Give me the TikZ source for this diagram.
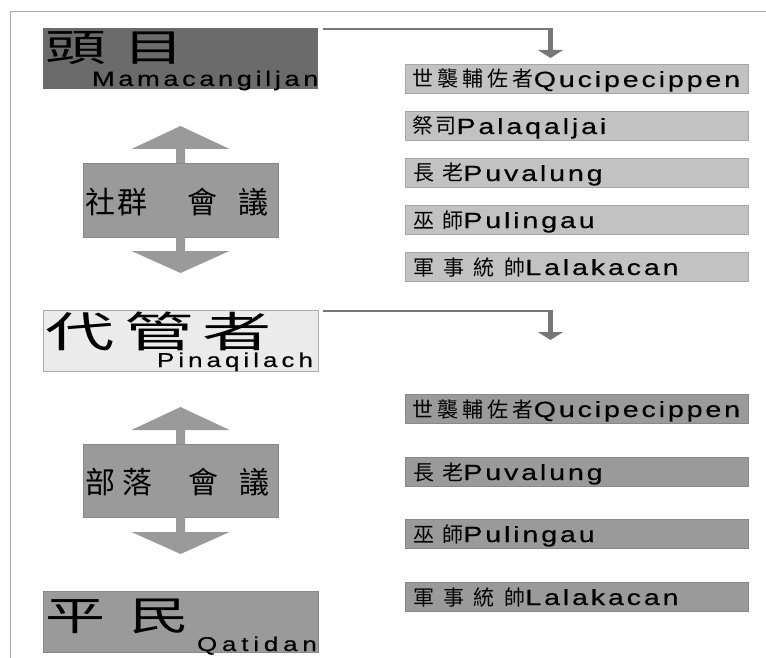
\documentclass[tikz,border=0pt]{standalone}
\usepackage{fontspec}
\usetikzlibrary{arrows.meta,calc}
\newfontfamily\cjk{Noto Sans CJK TC}
\newfontfamily\cjkwa[FakeStretch=1.6]{Noto Sans CJK TC}
\newfontfamily\cjkwb[FakeStretch=1.65]{Noto Sans CJK TC}
\newfontfamily\cjkwc[FakeStretch=1.5]{Noto Sans CJK TC}
\newfontfamily\lat[FakeStretch=1.3,LetterSpace=13,FakeBold=0.4]{Liberation Sans}
\definecolor{dk}{HTML}{6B6B6B}
\definecolor{lt}{HTML}{C2C2C2}
\definecolor{ltb}{HTML}{A6A6A6}
\definecolor{md}{HTML}{9A9A9A}
\definecolor{mdb}{HTML}{888888}
\definecolor{pale}{HTML}{EBEBEB}
\definecolor{framec}{HTML}{ABABAB}
\definecolor{conn}{HTML}{777777}
\tikzset{
  bx/.style={inner sep=0pt, outer sep=0pt, anchor=north west},
  headbox/.style={bx, minimum width=275pt, minimum height=61pt},
  rboxtop/.style={bx, fill=lt, draw=ltb, line width=0.8pt, minimum width=343pt, minimum height=29pt},
  rboxbot/.style={bx, fill=md, draw=mdb, line width=0.8pt, minimum width=343pt, minimum height=29pt},
  meetbox/.style={bx, fill=md, draw=mdb, line width=0.5pt, minimum width=195pt},
  txt/.style={inner sep=0pt, outer sep=0pt, anchor=base west, text=black},
  rt/.style={txt, font=\fontsize{21}{24}\selectfont},
  connline/.style={draw=conn, line width=1.2pt},
  thickarrow/.style={draw=conn, line width=5.5pt, -{Triangle[width=25pt,length=8pt]}},
  dblarrow/.style={fill=md}
}
\begin{document}
\begin{tikzpicture}[x=1pt,y=-1pt]
\useasboundingbox (0,0) rectangle (766,658);
\fill[white] (0,0) rectangle (766,658);
\draw[framec, line width=1pt] (10,658) -- (10,12) -- (766,12);

% left header boxes
\node[headbox, fill=dk] (h1) at (43,28) {};
\node[headbox, fill=pale, draw=framec, line width=0.8pt] (h2) at (43,310) {};
\node[headbox, fill=md, draw=mdb, line width=0.5pt] (h3) at (43,591) {};

\node[txt, font=\fontsize{38}{40}\selectfont\cjkwa] (h1a) at (45,62) {頭\kern18pt 目};
\node[txt, font=\fontsize{21}{24}\selectfont\lat\addfontfeature{LetterSpace=17}] (h1b) at (92,86) {Mamacangiljan};

\node[txt, font=\fontsize{42}{44}\selectfont\cjkwb] (h2a) at (45,347) {代\kern10pt 管\kern9pt 者};
\node[txt, font=\fontsize{20}{22}\selectfont\lat\addfontfeature{LetterSpace=20}] (h2b) at (157,367) {Pinaqilach};

\node[txt, font=\fontsize{40}{42}\selectfont\cjkwc] (h3a) at (45,630) {平\kern25pt 民};
\node[txt, font=\fontsize{20}{22}\selectfont\lat\addfontfeature{LetterSpace=24}] (h3b) at (197,651) {Qatidan};

% meeting boxes
\node[meetbox, minimum height=74pt] (m1) at (83,163) {};
\node[meetbox, minimum height=73pt] (m2) at (83,444) {};
\node[txt, font=\fontsize{30}{32}\selectfont\cjk] (m1t) at (85.5,213) {社\kern1.5pt 群\kern41pt 會\kern21pt 議};
\node[txt, font=\fontsize{30}{32}\selectfont\cjk] (m2t) at (85,493) {部\kern7.5pt 落\kern36pt 會\kern21pt 議};

% double arrows
\fill[dblarrow] (180.5,126) -- (229.5,149) -- (185,149) -- (185,163) -- (176,163) -- (176,149) -- (131.5,149) -- cycle;
\fill[dblarrow] (176,237) -- (185,237) -- (185,251) -- (229.5,251) -- (180.5,273) -- (131.5,251) -- (176,251) -- cycle;
\fill[dblarrow] (180.5,407) -- (229.5,430) -- (185,430) -- (185,444) -- (176,444) -- (176,430) -- (131.5,430) -- cycle;
\fill[dblarrow] (176,517) -- (185,517) -- (185,532) -- (229.5,532) -- (180.5,554) -- (131.5,532) -- (176,532) -- cycle;

% right boxes, top group
\node[rboxtop] (a1) at (405,64) {};
\node[rboxtop] (a2) at (405,111) {};
\node[rboxtop] (a3) at (405,158) {};
\node[rboxtop] (a4) at (405,205) {};
\node[rboxtop] (a5) at (405,252) {};
\node[rt] (a1t) at (412,87) {{\cjk\addfontfeature{LetterSpace=20}世襲輔佐者}{\fontsize{22}{24}\selectfont\lat Qucipecippen}};
\node[rt] (a2t) at (412,134) {{\cjk\addfontfeature{LetterSpace=12}祭司}{\fontsize{22}{24}\selectfont\lat Palaqaljai}};
\node[rt] (a3t) at (413,181) {{\cjk\addfontfeature{LetterSpace=40}長老}{\fontsize{22}{24}\selectfont\lat Puvalung}};
\node[rt] (a4t) at (413,228) {{\cjk\addfontfeature{LetterSpace=40}巫師}{\fontsize{22}{24}\selectfont\lat Pulingau}};
\node[rt] (a5t) at (413,275) {{\cjk\addfontfeature{LetterSpace=45}軍事統帥}{\fontsize{22}{24}\selectfont\lat Lalakacan}};

% right boxes, bottom group
\node[rboxbot] (b1) at (405,394) {};
\node[rboxbot] (b2) at (405,457) {};
\node[rboxbot] (b3) at (405,519) {};
\node[rboxbot] (b4) at (405,582) {};
\node[rt] (b1t) at (412,417) {{\cjk\addfontfeature{LetterSpace=20}世襲輔佐者}{\fontsize{22}{24}\selectfont\lat Qucipecippen}};
\node[rt] (b2t) at (413,480) {{\cjk\addfontfeature{LetterSpace=40}長老}{\fontsize{22}{24}\selectfont\lat Puvalung}};
\node[rt] (b3t) at (413,542) {{\cjk\addfontfeature{LetterSpace=40}巫師}{\fontsize{22}{24}\selectfont\lat Pulingau}};
\node[rt] (b4t) at (413,605) {{\cjk\addfontfeature{LetterSpace=45}軍事統帥}{\fontsize{22}{24}\selectfont\lat Lalakacan}};

% connectors
\coordinate (c1) at (553,29);
\coordinate (c1s) at (550.5,28.4);
\coordinate (c1e) at (550.5,58);
\draw[connline] ($(h1.north east)+(5,1)$) -- (c1);
\draw[thickarrow] (c1s) -- (c1e);

\coordinate (c2) at (553,311);
\coordinate (c2s) at (550.5,310.4);
\coordinate (c2e) at (550.5,340);
\draw[connline] ($(h2.north east)+(5,1)$) -- (c2);
\draw[thickarrow] (c2s) -- (c2e);
\end{tikzpicture}
\end{document}
